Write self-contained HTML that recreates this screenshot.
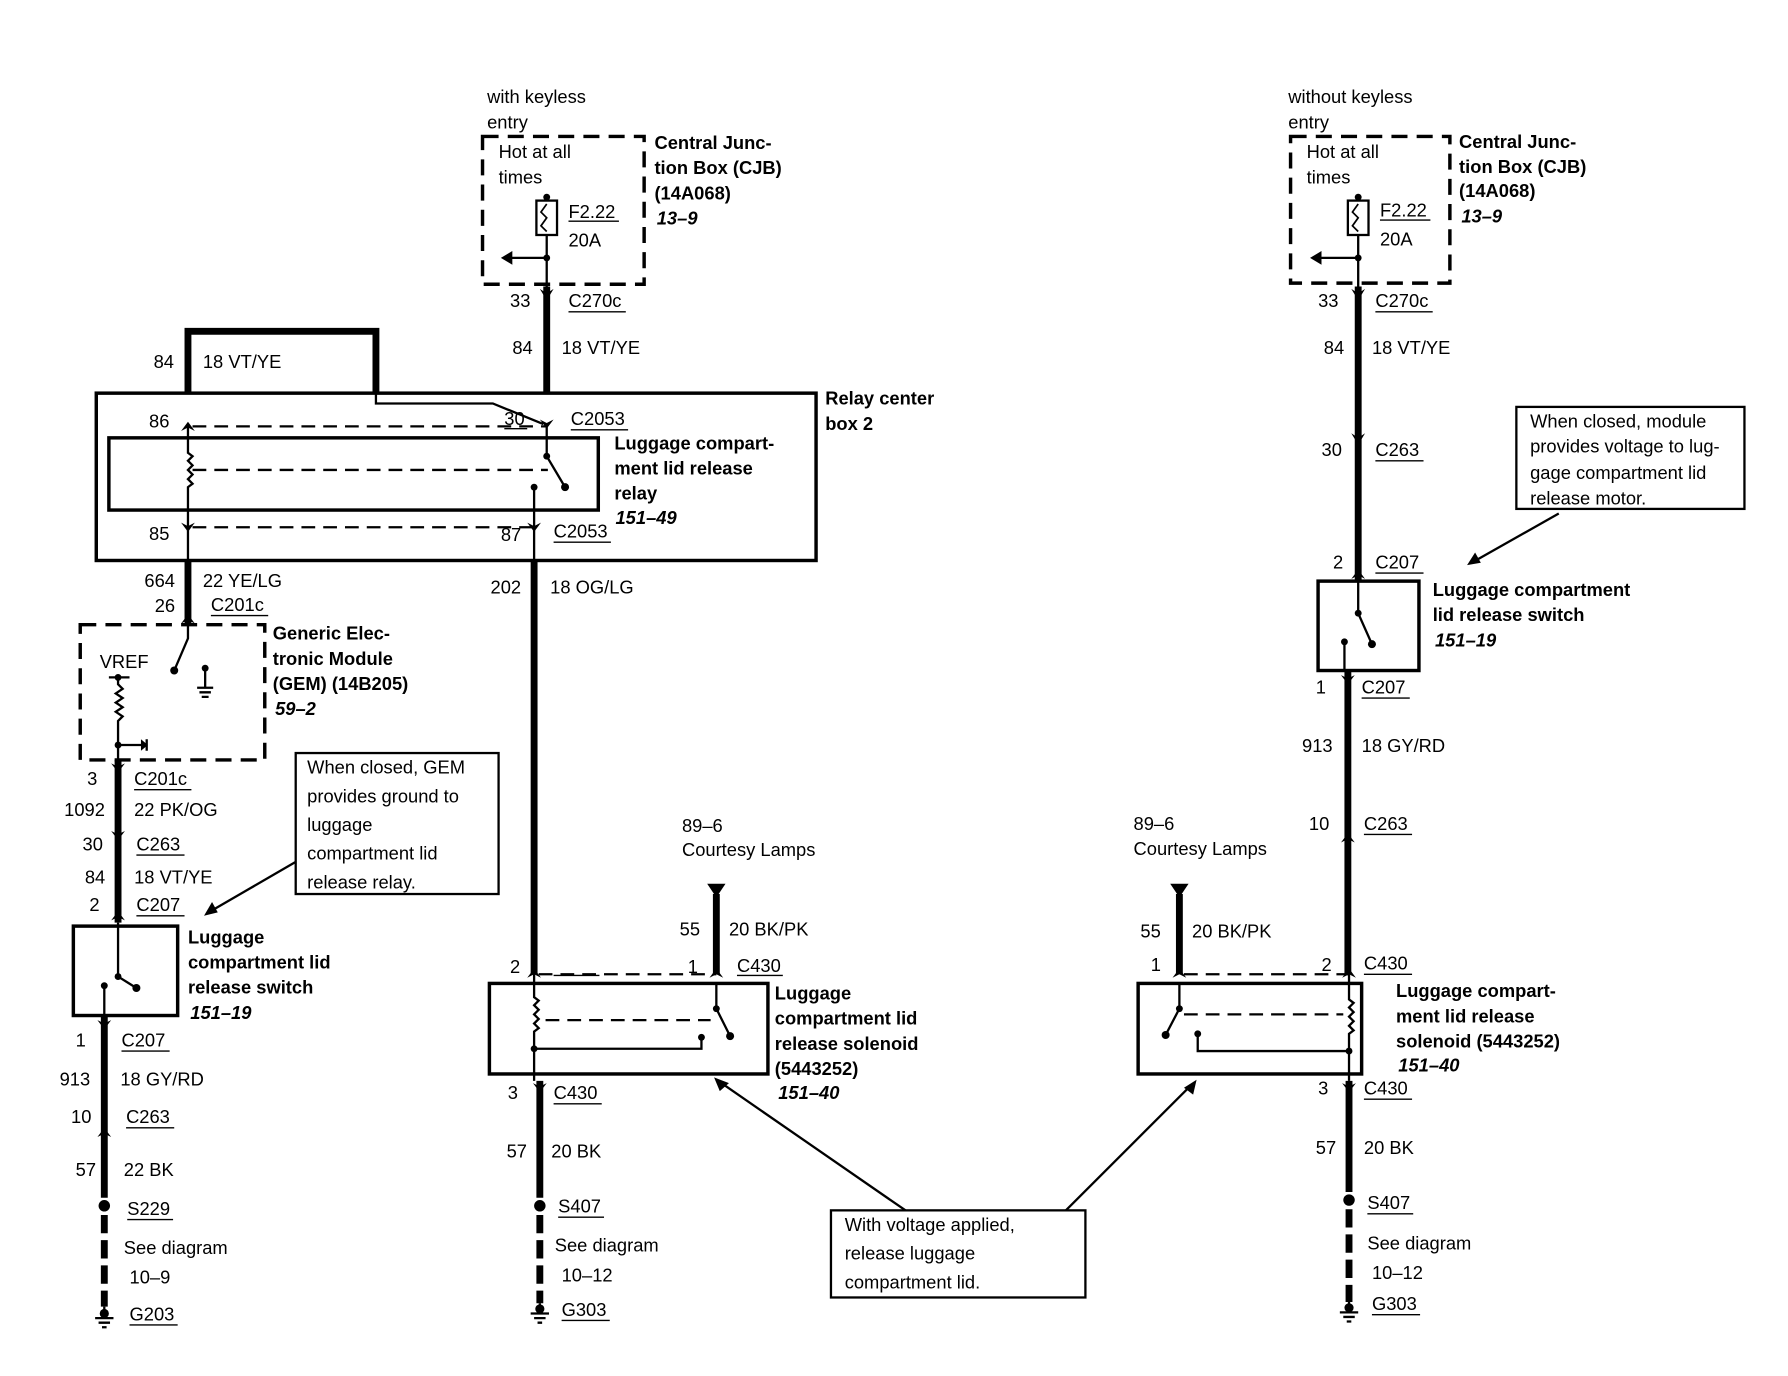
<!DOCTYPE html>
<html><head><meta charset="utf-8"><style>
html,body{margin:0;padding:0;background:#fff}
svg{display:block}
text{font-family:"Liberation Sans",sans-serif;font-size:16px;fill:#000}
.b{font-weight:bold}
.i{font-weight:bold;font-style:italic}
</style></head><body>
<svg width="1788" height="1376" viewBox="0 0 1560 1200.5" xmlns="http://www.w3.org/2000/svg">
<g fill="none" stroke="#000">
<!-- LEFT CJB -->
<rect x="421" y="119" width="141" height="129" stroke-width="3" stroke-dasharray="14,8"/>
<rect x="468" y="175" width="18" height="30" stroke-width="2"/>
<path d="M477 172V175M477 178l-5 7 5 5-5 7 5 5" stroke-width="1.5"/>
<path d="M477 205V250M477 225H445" stroke-width="2"/>
<path d="M477 250V343" stroke-width="6"/>
<!-- loop -->
<path d="M164 343V289H328V343" stroke-width="6"/>
<path d="M328 343V352H430L474 370" stroke-width="2"/>
<!-- relay center box -->
<rect x="84" y="343" width="628" height="146" stroke-width="3"/>
<rect x="95" y="382" width="427" height="63" stroke-width="3"/>
<path d="M164 372V395l4 3-4 4 4 4-4 4 4 4-4 4 4 4-4 3V489" stroke-width="2"/>
<path d="M168 372H477" stroke-width="2" stroke-dasharray="12,7"/>
<path d="M168 460H466" stroke-width="2" stroke-dasharray="12,7"/>
<path d="M168 410H478" stroke-width="2" stroke-dasharray="12,7"/>
<path d="M477 370V398L493 425M466 425V489" stroke-width="2"/>
<!-- wires below relay -->
<path d="M164 489V545" stroke-width="6"/>
<path d="M466 489V850" stroke-width="6"/>
<!-- GEM -->
<rect x="70" y="545" width="161" height="118" stroke-width="3" stroke-dasharray="14,8"/>
<path d="M164 545V557L152 585M179 583V600M172 600h14M174 604h10M176 608h6" stroke-width="2"/>
<path d="M95 591h18M103 591V597l4 4-6 4 6 4-6 4 6 4-6 4 6 4-4 4V663M103 650H128M128 645v10" stroke-width="2"/>
<path d="M103 663V805" stroke-width="6"/>
<rect x="64" y="808" width="91" height="78" stroke-width="3"/>
<path d="M103 805V852L119 862M91 860V886" stroke-width="2"/>
<path d="M91 886V1045" stroke-width="6"/>
<path d="M91 1060V1140" stroke-width="6" stroke-dasharray="16,6"/>
<path d="M91 1140V1150M83 1150h16M86 1154h10M89 1158h4" stroke-width="2"/>
<!-- GEM callout -->
<rect x="258" y="657" width="177" height="123" stroke-width="2"/>
<path d="M258 752L182 796" stroke-width="2"/>
<!-- middle solenoid -->
<path d="M625 780V850" stroke-width="6"/>
<path d="M470 850H625" stroke-width="2" stroke-dasharray="12,7"/>
<rect x="427" y="858" width="243" height="79" stroke-width="3"/>
<path d="M466 850V870l4 3-4 4 4 4-4 4 4 4-4 4 4 4-4 3V943" stroke-width="2"/>
<path d="M476 890H620" stroke-width="2" stroke-dasharray="12,7"/>
<path d="M625 858V880L637 904M612 905V915H466" stroke-width="2"/>
<path d="M471 943V1045" stroke-width="6"/>
<path d="M471 1060V1137" stroke-width="6" stroke-dasharray="16,6"/>
<path d="M471 1137V1146M463 1146h16M466 1150h10M469 1154h4" stroke-width="2"/>
<!-- bottom callout -->
<rect x="725" y="1056" width="222" height="76" stroke-width="2"/>
<path d="M790 1056L628 944M930 1056L1040 946" stroke-width="2"/>
<!-- right solenoid -->
<path d="M1029 780V850" stroke-width="6"/>
<path d="M1033 850H1177" stroke-width="2" stroke-dasharray="12,7"/>
<rect x="993" y="858" width="195" height="79" stroke-width="3"/>
<path d="M1029 858V880L1017 903M1045 902V917H1177" stroke-width="2"/>
<path d="M1033 885H1172" stroke-width="2" stroke-dasharray="12,7"/>
<path d="M1177 850V872l4 3-4 4 4 4-4 4 4 4-4 4 4 4-4 3V943" stroke-width="2"/>
<path d="M1177 943V1040" stroke-width="6"/>
<path d="M1177 1055V1136" stroke-width="6" stroke-dasharray="16,6"/>
<path d="M1177 1136V1145M1169 1145h16M1172 1149h10M1175 1153h4" stroke-width="2"/>
<!-- right column -->
<rect x="1126" y="119" width="139" height="128" stroke-width="3" stroke-dasharray="14,8"/>
<rect x="1176" y="175" width="18" height="30" stroke-width="2"/>
<path d="M1185 172V175M1185 178l-5 7 5 5-5 7 5 5" stroke-width="1.5"/>
<path d="M1185 205V250M1185 225H1150" stroke-width="2"/>
<path d="M1185 250V507" stroke-width="6"/>
<rect x="1150" y="507" width="88" height="78" stroke-width="3"/>
<path d="M1185 507V535L1197 562M1173 560V585" stroke-width="2"/>
<path d="M1176 585V850" stroke-width="6"/>
<rect x="1323" y="355" width="199" height="89" stroke-width="2"/>
<path d="M1360 448L1284 491" stroke-width="2"/>
</g>
<g fill="#000">
<!-- dots -->
<circle cx="477" cy="172" r="3"/><circle cx="477" cy="225" r="3"/><circle cx="1185" cy="172" r="3"/><circle cx="1185" cy="225" r="3"/>
<circle cx="493" cy="425" r="3.5"/><circle cx="466" cy="425" r="3"/><circle cx="477" cy="398" r="3"/>
<circle cx="152" cy="585" r="3.5"/><circle cx="179" cy="583" r="3"/><circle cx="103" cy="650" r="3"/><circle cx="103" cy="591" r="3"/>
<circle cx="119" cy="862" r="3.5"/><circle cx="91" cy="860" r="3"/><circle cx="103" cy="852" r="3"/>
<circle cx="637" cy="904" r="3.5"/><circle cx="612" cy="905" r="3"/><circle cx="466" cy="915" r="3"/><circle cx="625" cy="880" r="3"/>
<circle cx="1017" cy="903" r="3.5"/><circle cx="1045" cy="902" r="3"/><circle cx="1177" cy="917" r="3"/><circle cx="1029" cy="880" r="3"/>
<circle cx="1197" cy="562" r="3.5"/><circle cx="1173" cy="560" r="3"/><circle cx="1185" cy="535" r="3"/>
<circle cx="91" cy="1052" r="5"/><circle cx="471" cy="1052" r="5"/><circle cx="1177" cy="1047" r="5"/>
<circle cx="91" cy="1146" r="4"/><circle cx="471" cy="1142" r="4"/><circle cx="1177" cy="1141" r="4"/>
<!-- arrowheads -->
<path d="M437 225l10-6v12z"/><path d="M1143 225l10-6v12z"/>
<path d="M129 650l-6-5v10z" transform="translate(0,0)"/>
<path d="M178 799l7-12 5 9z"/>
<path d="M1280 493l7-11 5 9z"/>
<path d="M623 940l13 5-8 7z"/><path d="M1044 942l-3 13-8-6z"/>
<path d="M617 771h16l-8 12z"/><path d="M1021 771h16l-8 12z"/>
<!-- connector chevrons -->
<path d="M471 252l6 10 6-10-6 4z"/><path d="M1179 252l6 10 6-10-6 4z"/>
<path d="M1179 378l6 10 6-10-6 4z"/>
<path d="M471 366l6 8 6-8-6 3z"/><path d="M158 376l6-8 6 8-6-3z"/>
<path d="M158 456l6 8 6-8-6 3z"/><path d="M460 456l6 8 6-8-6 3z"/>
<path d="M158 544l6-8 6 8-6-3z"/>
<path d="M97 666l6 8 6-8-6 3z"/><path d="M97 725l6 8 6-8-6 3z"/><path d="M97 803l6-8 6 8-6-3z"/>
<path d="M85 890l6 8 6-8-6 3z"/><path d="M85 992l6-8 6 8-6-3z"/>
<path d="M460 853l6-8 6 8-6-3z"/><path d="M619 853l6-8 6 8-6-3z"/>
<path d="M465 945l6 8 6-8-6 3z"/>
<path d="M1023 853l6-8 6 8-6-3z"/><path d="M1171 853l6-8 6 8-6-3z"/>
<path d="M1171 945l6 8 6-8-6 3z"/>
<path d="M1179 505l6-8 6 8-6-3z"/><path d="M1170 589l6 8 6-8-6 3z"/><path d="M1170 735l6-8 6 8-6-3z"/>
</g>
<!-- underlines -->
<g stroke="#000" stroke-width="1.2">
<path d="M496 193h44M496 272h50M1204 192h44M1200 272h50M440 374h20M498 375h50M483 473h50M184 537h50M117 689h50M119 746h42M119 799h42M106 917h42M110 984h42M111 1064h40M113 1156h42M483 851h40M643 851h40M483 963h42M487 1062h40M490 1152h42M1190 850h42M1190 959h42M1193 1059h40M1197 1147h42M1200 402h42M1200 500h42M1188 609h42M1190 728h42"/>
</g>
<!-- TEXT -->
<text x="425" y="90">with keyless</text><text x="425" y="112">entry</text>
<text x="435" y="138">Hot at all</text><text x="435" y="160">times</text>
<text x="496" y="190">F2.22</text><text x="496" y="215">20A</text>
<text class="b" x="571" y="130">Central Junc-</text><text class="b" x="571" y="152">tion Box (CJB)</text><text class="b" x="571" y="174">(14A068)</text><text class="i" x="573" y="196">13–9</text>
<text x="445" y="268">33</text><text x="496" y="268">C270c</text>
<text x="447" y="309">84</text><text x="490" y="309">18 VT/YE</text>
<text x="134" y="321">84</text><text x="177" y="321">18 VT/YE</text>
<text class="b" x="720" y="353">Relay center</text><text class="b" x="720" y="375">box 2</text>
<text x="130" y="373">86</text><text x="440" y="371">30</text><text x="498" y="371">C2053</text>
<text class="b" x="536" y="392">Luggage compart-</text><text class="b" x="536" y="414">ment lid release</text><text class="b" x="536" y="436">relay</text><text class="i" x="537" y="457">151–49</text>
<text x="130" y="471">85</text><text x="437" y="472">87</text><text x="483" y="469">C2053</text>
<text x="126" y="512">664</text><text x="177" y="512">22 YE/LG</text>
<text x="135" y="534">26</text><text x="184" y="533">C201c</text>
<text x="428" y="518">202</text><text x="480" y="518">18 OG/LG</text>
<text class="b" x="238" y="558">Generic Elec-</text><text class="b" x="238" y="580">tronic Module</text><text class="b" x="238" y="602">(GEM) (14B205)</text><text class="i" x="240" y="624">59–2</text>
<text x="87" y="583">VREF</text>
<text x="76" y="685">3</text><text x="117" y="685">C201c</text>
<text x="56" y="712">1092</text><text x="117" y="712">22 PK/OG</text>
<text x="72" y="742">30</text><text x="119" y="742">C263</text>
<text x="74" y="771">84</text><text x="117" y="771">18 VT/YE</text>
<text x="78" y="795">2</text><text x="119" y="795">C207</text>
<text x="268" y="675">When closed, GEM</text><text x="268" y="700">provides ground to</text><text x="268" y="725">luggage</text><text x="268" y="750">compartment lid</text><text x="268" y="775">release relay.</text>
<text class="b" x="164" y="823">Luggage</text><text class="b" x="164" y="845">compartment lid</text><text class="b" x="164" y="867">release switch</text><text class="i" x="166" y="889">151–19</text>
<text x="66" y="913">1</text><text x="106" y="913">C207</text>
<text x="52" y="947">913</text><text x="105" y="947">18 GY/RD</text>
<text x="62" y="980">10</text><text x="110" y="980">C263</text>
<text x="66" y="1026">57</text><text x="108" y="1026">22 BK</text>
<text x="111" y="1060">S229</text><text x="108" y="1094">See diagram</text><text x="113" y="1120">10–9</text><text x="113" y="1152">G203</text>
<text x="595" y="726">89–6</text><text x="595" y="747">Courtesy Lamps</text>
<text x="593" y="816">55</text><text x="636" y="816">20 BK/PK</text>
<text x="445" y="849">2</text><text x="600" y="849">1</text><text x="643" y="848">C430</text>
<text class="b" x="676" y="872">Luggage</text><text class="b" x="676" y="894">compartment lid</text><text class="b" x="676" y="916">release solenoid</text><text class="b" x="676" y="938">(5443252)</text><text class="i" x="679" y="959">151–40</text>
<text x="443" y="959">3</text><text x="483" y="959">C430</text>
<text x="442" y="1010">57</text><text x="481" y="1010">20 BK</text>
<text x="487" y="1058">S407</text><text x="484" y="1092">See diagram</text><text x="490" y="1118">10–12</text><text x="490" y="1148">G303</text>
<text x="737" y="1074">With voltage applied,</text><text x="737" y="1099">release luggage</text><text x="737" y="1124">compartment lid.</text>
<text x="989" y="724">89–6</text><text x="989" y="746">Courtesy Lamps</text>
<text x="995" y="818">55</text><text x="1040" y="818">20 BK/PK</text>
<text x="1004" y="847">1</text><text x="1153" y="847">2</text><text x="1190" y="846">C430</text>
<text class="b" x="1218" y="870">Luggage compart-</text><text class="b" x="1218" y="892">ment lid release</text><text class="b" x="1218" y="914">solenoid (5443252)</text><text class="i" x="1220" y="935">151–40</text>
<text x="1150" y="955">3</text><text x="1190" y="955">C430</text>
<text x="1148" y="1007">57</text><text x="1190" y="1007">20 BK</text>
<text x="1193" y="1055">S407</text><text x="1193" y="1090">See diagram</text><text x="1197" y="1116">10–12</text><text x="1197" y="1143">G303</text>
<text x="1124" y="90">without keyless</text><text x="1124" y="112">entry</text>
<text x="1140" y="138">Hot at all</text><text x="1140" y="160">times</text>
<text x="1204" y="189">F2.22</text><text x="1204" y="214">20A</text>
<text class="b" x="1273" y="129">Central Junc-</text><text class="b" x="1273" y="151">tion Box (CJB)</text><text class="b" x="1273" y="172">(14A068)</text><text class="i" x="1275" y="194">13–9</text>
<text x="1150" y="268">33</text><text x="1200" y="268">C270c</text>
<text x="1155" y="309">84</text><text x="1197" y="309">18 VT/YE</text>
<text x="1153" y="398">30</text><text x="1200" y="398">C263</text>
<text x="1335" y="373">When closed, module</text><text x="1335" y="395">provides voltage to lug-</text><text x="1335" y="418">gage compartment lid</text><text x="1335" y="440">release motor.</text>
<text x="1163" y="496">2</text><text x="1200" y="496">C207</text>
<text class="b" x="1250" y="520">Luggage compartment</text><text class="b" x="1250" y="542">lid release switch</text><text class="i" x="1252" y="564">151–19</text>
<text x="1148" y="605">1</text><text x="1188" y="605">C207</text>
<text x="1136" y="656">913</text><text x="1188" y="656">18 GY/RD</text>
<text x="1142" y="724">10</text><text x="1190" y="724">C263</text>
</svg>
</body></html>
